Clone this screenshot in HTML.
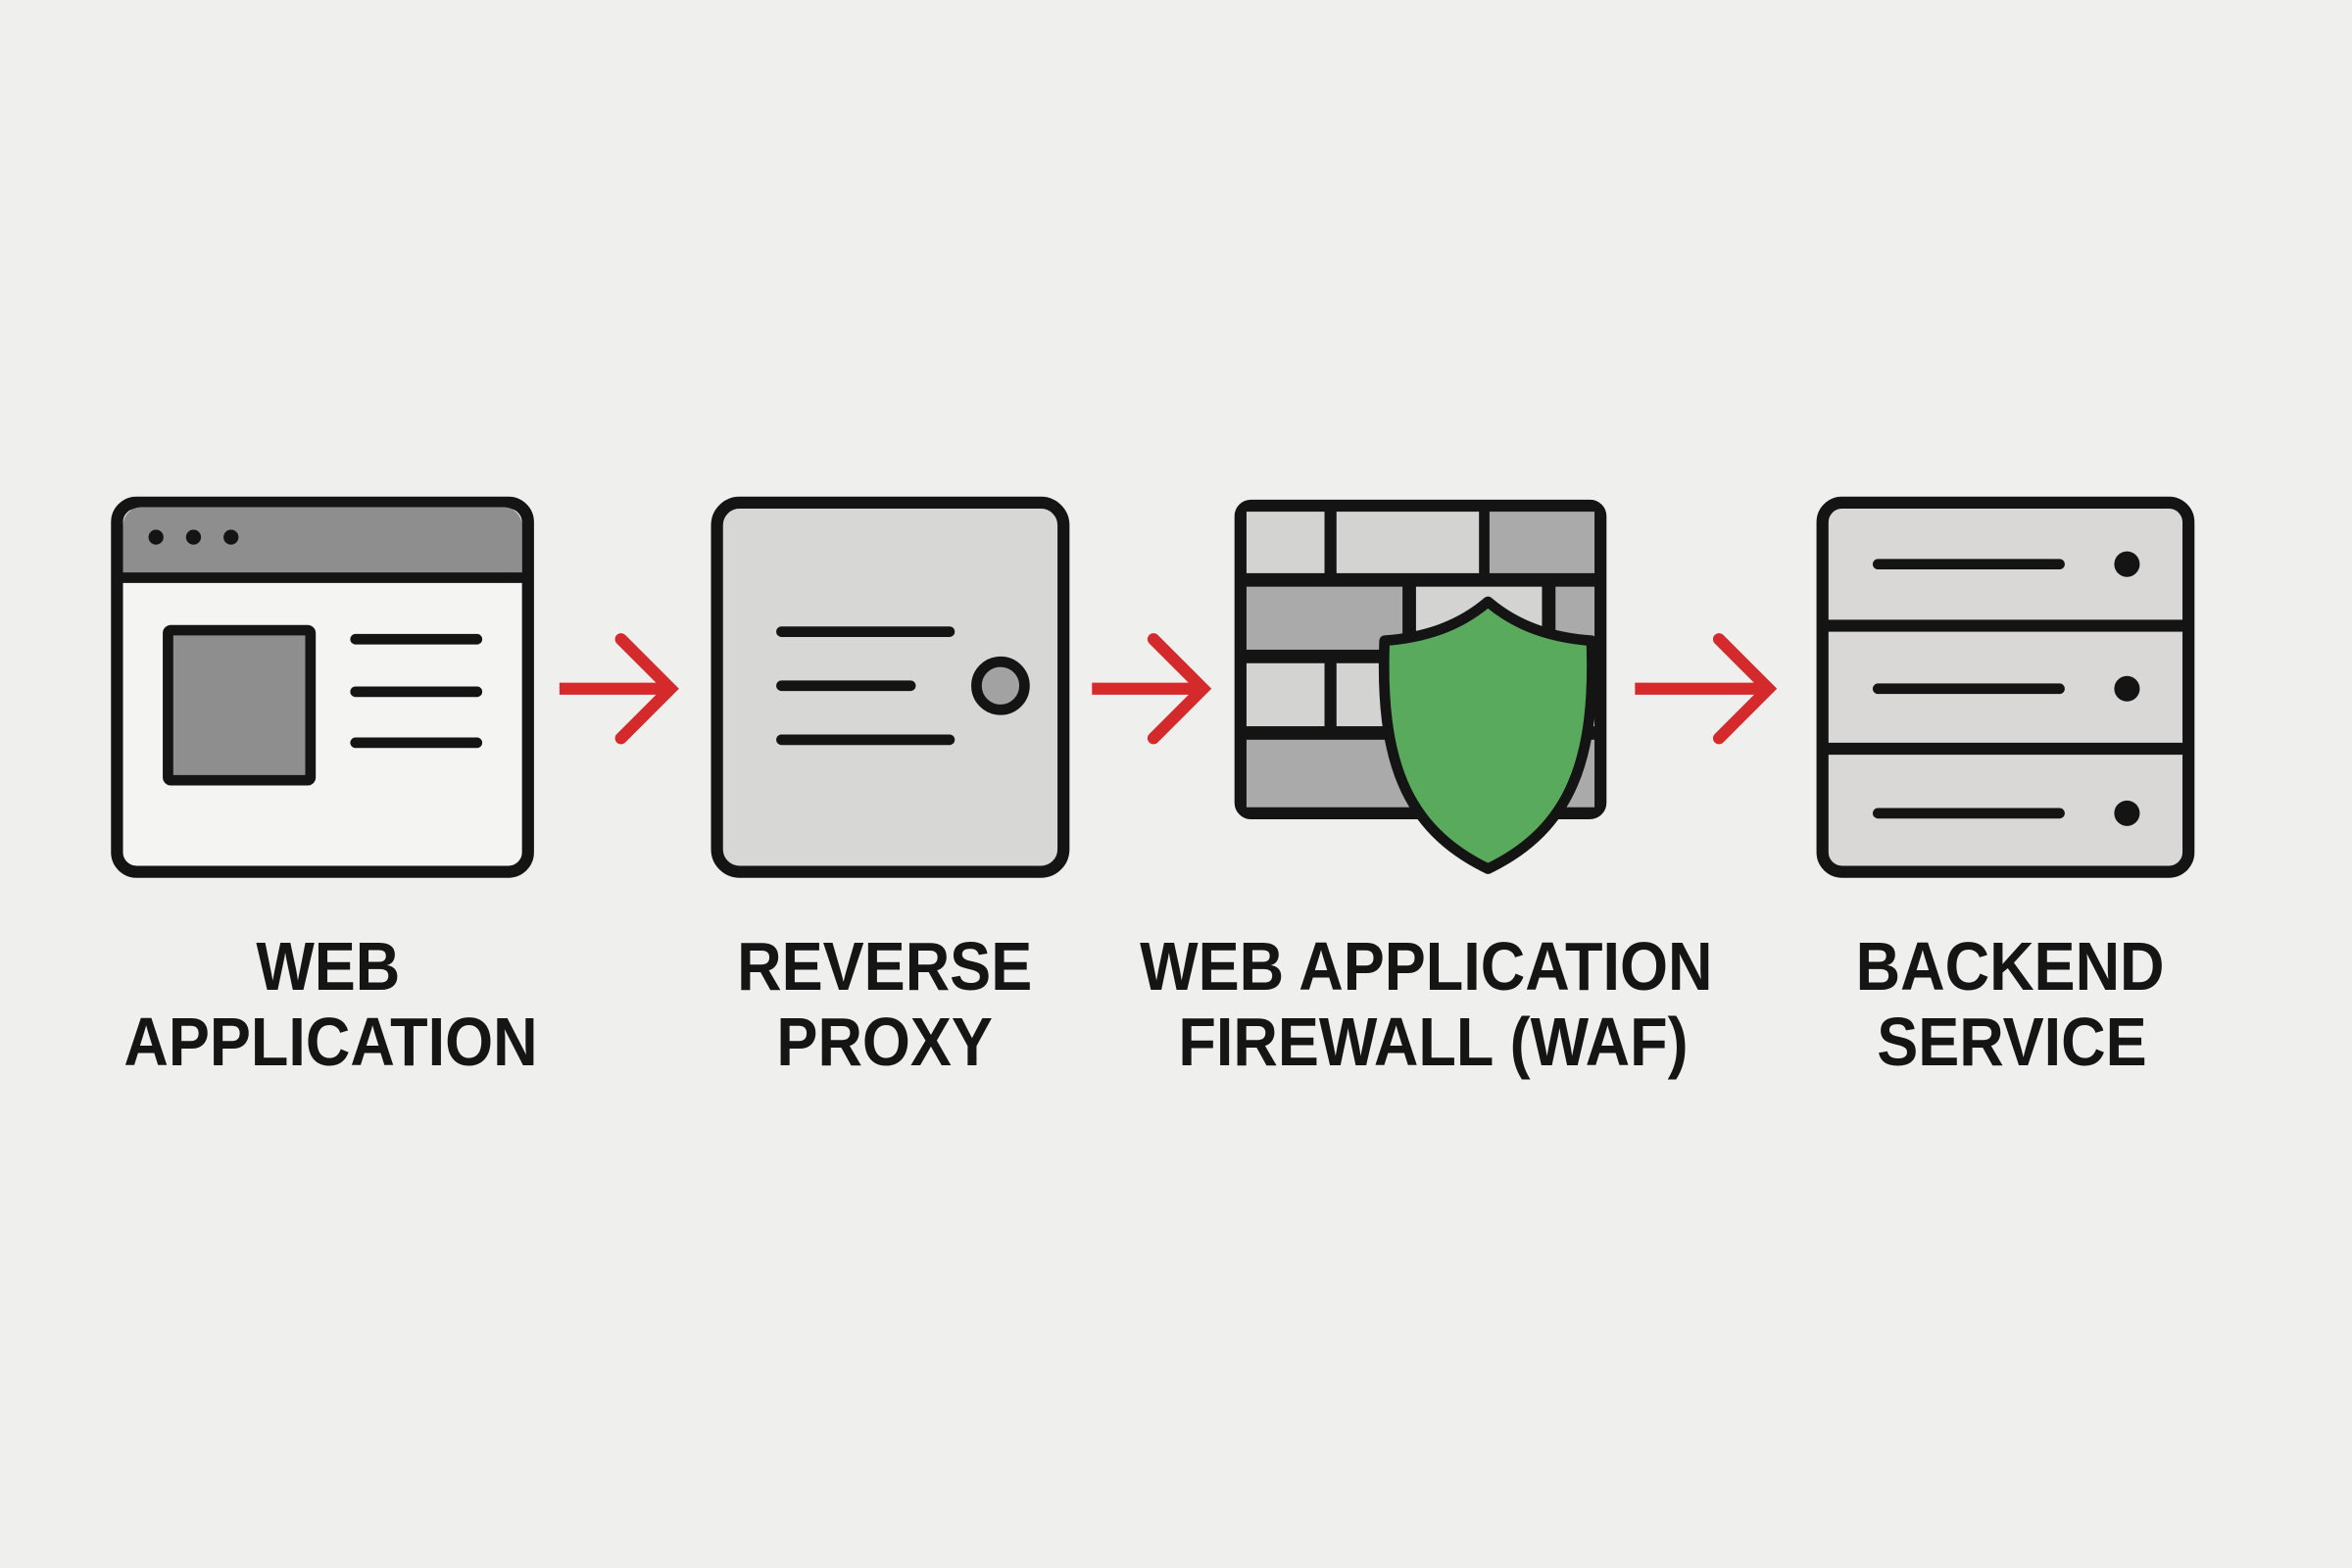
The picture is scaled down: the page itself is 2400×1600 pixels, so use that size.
<!DOCTYPE html>
<html><head><meta charset="utf-8"><style>
html,body{margin:0;padding:0;background:#efefee;}
svg{display:block;position:absolute;left:0;top:0;}
text{font-family:"Liberation Sans",sans-serif;font-weight:bold;fill:#151515;}
</style></head><body>
<svg width="2400" height="1600" viewBox="0 0 1568 1045" preserveAspectRatio="none" xmlns="http://www.w3.org/2000/svg">
<rect width="1568" height="1045" fill="#efefee"/>
<g stroke="#141414" stroke-linecap="round" stroke-linejoin="round">
<rect x="78" y="335" width="274" height="246" rx="13" fill="#f4f4f3" stroke-width="8"/>
<path d="M82 384 V350 a12 12 0 0 1 12 -12 H336 a12 12 0 0 1 12 12 V384 Z" fill="#8e8e8e" stroke="none"/>
<line x1="80" y1="385" x2="350" y2="385" stroke-width="7"/>
<circle cx="104" cy="358" r="5" fill="#141414" stroke="none"/>
<circle cx="129" cy="358" r="5" fill="#141414" stroke="none"/>
<circle cx="154" cy="358" r="5" fill="#141414" stroke="none"/>
<rect x="112" y="420" width="95" height="100" rx="2" fill="#8e8e8e" stroke-width="7"/>
<line x1="237" y1="426" x2="318" y2="426" stroke-width="7"/>
<line x1="237" y1="461" x2="318" y2="461" stroke-width="7"/>
<line x1="237" y1="495" x2="318" y2="495" stroke-width="7"/>
<rect x="478" y="335" width="231" height="246" rx="15" fill="#d7d7d6" stroke-width="8"/>
<line x1="521" y1="421" x2="633" y2="421" stroke-width="7"/>
<line x1="521" y1="457" x2="607" y2="457" stroke-width="7"/>
<line x1="521" y1="493" x2="633" y2="493" stroke-width="7"/>
<circle cx="667" cy="457" r="16" fill="#a2a2a2" stroke-width="7"/>
<rect x="826" y="336" width="242" height="207" rx="8" fill="#141414" stroke-width="6"/>
<g stroke="none">
<rect x="831" y="341" width="52" height="41" fill="#d3d3d2"/>
<rect x="891" y="341" width="95" height="41" fill="#d3d3d2"/>
<rect x="993" y="341" width="70" height="41" fill="#aaaaaa"/>
<rect x="831" y="391" width="104" height="42" fill="#aaaaaa"/>
<rect x="944" y="391" width="84" height="42" fill="#d3d3d2"/>
<rect x="1037" y="391" width="26" height="42" fill="#aaaaaa"/>
<rect x="831" y="442" width="52" height="42" fill="#d3d3d2"/>
<rect x="891" y="442" width="172" height="42" fill="#d3d3d2"/>
<rect x="831" y="493" width="232" height="45" fill="#aaaaaa"/>
</g>
<path d="M992 401 C1012 418 1035 425 1061 427 C1064 505 1048 552 992 579 C936 552 920 505 923 427 C949 425 972 418 992 401 Z" fill="#5aaa5e" stroke-width="7"/>
<rect x="1215" y="335" width="244" height="246" rx="13" fill="#d9d8d7" stroke-width="8"/>
<line x1="1217" y1="417" x2="1457" y2="417" stroke-width="8"/>
<line x1="1217" y1="499" x2="1457" y2="499" stroke-width="8"/>
<line x1="1252" y1="376" x2="1373" y2="376" stroke-width="7"/>
<line x1="1252" y1="459" x2="1373" y2="459" stroke-width="7"/>
<line x1="1252" y1="542" x2="1373" y2="542" stroke-width="7"/>
<circle cx="1418" cy="376" r="8.5" fill="#141414" stroke="none"/>
<circle cx="1418" cy="459" r="8.5" fill="#141414" stroke="none"/>
<circle cx="1418" cy="542" r="8.5" fill="#141414" stroke="none"/>
</g>
<g stroke="#d42a2c" stroke-width="8" fill="none" stroke-linecap="round" stroke-linejoin="miter">
<line x1="373" y1="459" x2="444" y2="459" stroke-linecap="butt"/>
<polyline points="414,426 447,459 414,492"/>
<line x1="728" y1="459" x2="799" y2="459" stroke-linecap="butt"/>
<polyline points="769,426 802,459 769,492"/>
<line x1="1090" y1="459" x2="1176" y2="459" stroke-linecap="butt"/>
<polyline points="1146,426 1179,459 1146,492"/>
</g>
</svg>
<svg width="2400" height="1600" xmlns="http://www.w3.org/2000/svg">
<g font-size="70" text-anchor="middle" transform="scale(0.9,1)">
<text x="372" y="1010">WEB</text>
<text x="375" y="1087">APPLICATION</text>
<text x="1003" y="1010">REVERSE</text>
<text x="1003" y="1087">PROXY</text>
<text x="1617" y="1010">WEB APPLICATION</text>
<text x="1625" y="1087">FIREWALL (WAF)</text>
<text x="2279" y="1010">BACKEND</text>
<text x="2281" y="1087">SERVICE</text>
</g>
</svg>
</body></html>
